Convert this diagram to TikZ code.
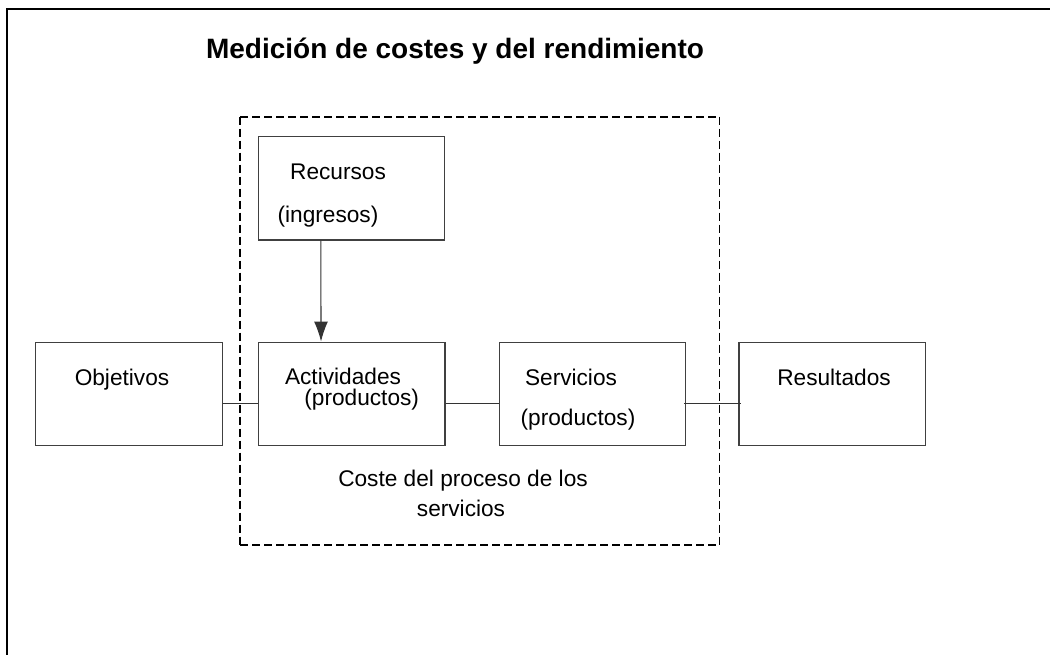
\documentclass[tikz,border=0pt]{standalone}
\usepackage{fontspec}
\setmainfont{Liberation Sans}
\usetikzlibrary{arrows.meta}

\tikzset{
  caja/.style={draw=black!75, line width=0.9pt, minimum width=140pt, minimum height=77.5pt, inner sep=0pt},
  texto/.style={anchor=base, inner sep=0pt, font=\fontsize{17}{20}\selectfont},
  enlace/.style={draw=black!80, line width=0.8pt},
  raya/.style={dash pattern=on 6pt off 3pt}
}

\begin{document}
\begin{tikzpicture}[x=0.75pt, y=-0.75pt]
\useasboundingbox (0,0) rectangle (1050,655);

%marco
\draw[line width=2pt] (7,655) -- (7,9) -- (1050,9);
\node[anchor=base, inner sep=0pt, font=\fontsize{21}{24}\selectfont\bfseries] (titulo) at (455,59) {Medición de costes y del rendimiento};

%proceso
\draw[raya, line width=1.5pt] (240,116.7) -- (719.3,116.7);
\draw[raya, line width=1.5pt] (240,545.3) -- (719.3,545.3);
\draw[raya, line width=1pt] (240,116.7) -- (240,545.3);
\draw[raya, line width=1pt] (719.3,116.7) -- (719.3,545.3);

%cajas
\node[caja] (recursos) at (351.5,188.3) {};
\node[caja] (objetivos) at (129,393.8) {};
\node[caja] (actividades) at (351.7,393.8) {};
\node[caja] (servicios) at (592.5,393.8) {};
\node[caja] (resultados) at (832.3,393.8) {};

%textos
\node[texto] (trecursos) at (338,180) {Recursos};
\node[texto] (tingresos) at (328,223) {(ingresos)};
\node[texto] (tobjetivos) at (122,386) {Objetivos};
\node[texto] (tactividades) at (343,385) {Actividades};
\node[texto] (tproductosa) at (361.7,406) {(productos)};
\node[texto] (tservicios) at (571,386) {Servicios};
\node[texto] (tproductoss) at (578,426) {(productos)};
\node[texto] (tresultados) at (834,386) {Resultados};
\node[texto] (tcoste) at (463,487) {Coste del proceso de los};
\node[texto] (tcoste2) at (461,517) {servicios};

%enlaces
\draw[enlace, -{Latex[length=15pt, width=10.5pt]}] ([xshift=-23pt]recursos.south) -- ([xshift=-23pt]actividades.north);
\draw[enlace] ([yshift=-7pt]objetivos.east) -- ([yshift=-7pt]actividades.west);
\draw[enlace] ([yshift=-7pt]actividades.east) -- ([yshift=-7pt]servicios.west);
\draw[enlace, shorten <=-2pt, shorten >=-2pt] ([yshift=-7pt]servicios.east) -- ([yshift=-7pt]resultados.west);
\end{tikzpicture}
\end{document}
